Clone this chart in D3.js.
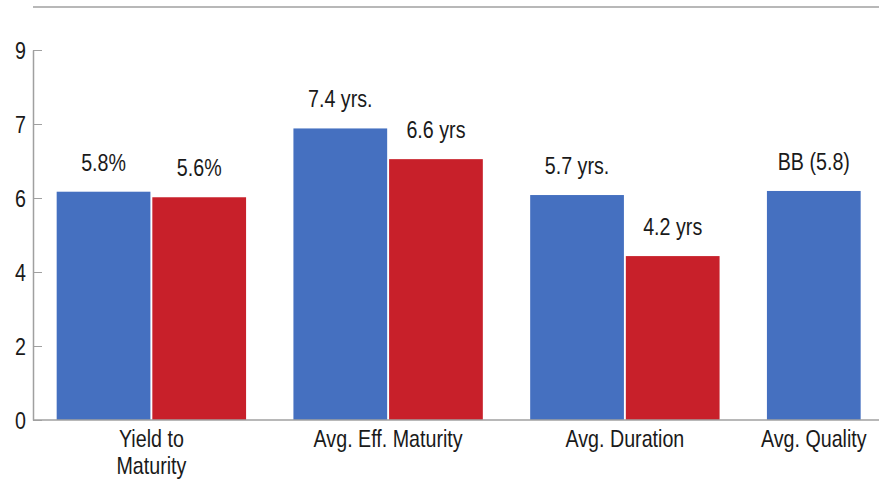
<!DOCTYPE html>
<html>
<head>
<meta charset="utf-8">
<script src="https://cdn.jsdelivr.net/npm/d3@7"></script>
<style>
  body { margin: 0; background: #fff; }
  text { font-family: "Liberation Sans", Arial, sans-serif; fill: #1a1a1a; }
</style>
</head>
<body>
<svg id="chart" width="879" height="482"></svg>
<script>
// categories and series (bar heights read against the axis positions)
var categories = ["Yield to Maturity", "Avg. Eff. Maturity", "Avg. Duration", "Avg. Quality"];
var catLines = [["Yield to", "Maturity"], ["Avg. Eff. Maturity"], ["Avg. Duration"], ["Avg. Quality"]];
var series = ["fund", "index"];
var fundValues = [6.17, 7.88, 6.08, 6.19];
var indexValues = [6.02, 7.05, 4.43, null];
var fundLabels = ["5.8%", "7.4 yrs.", "5.7 yrs.", "BB (5.8)"];
var indexLabels = ["5.6%", "6.6 yrs", "4.2 yrs", ""];
var tickValues = [0, 2, 4, 6, 8, 10];
var tickLabels = ["0", "2", "4", "6", "7", "9"];

var colors = { fund: "#4570c0", index: "#c8202a" };
var sx = 0.82; // condensed look of the original font

var svg = d3.select("#chart");
var mLeft = 33, mBottom = 420, mTop = 50, mRight = 879;

var y = d3.scaleLinear().domain([0, 10]).range([mBottom, mTop]);
var x0 = d3.scaleBand().domain(categories).range([33, 980]).paddingInner(0.2).paddingOuter(0.1);
var x1 = d3.scaleBand().domain(series).range([0, x0.bandwidth()]).paddingInner(0.02);

// frame
svg.append("line").attr("x1", mLeft).attr("x2", mRight).attr("y1", 7).attr("y2", 7)
	.attr("stroke", "#a0a0a0").attr("stroke-width", 1.5);

var rows = categories.map(function(c, i) {
	return [
		{ cat: c, key: "fund", v: fundValues[i], label: fundLabels[i] },
		{ cat: c, key: "index", v: indexValues[i], label: indexLabels[i] }
	].filter(function(d) { return d.v != null; });
});

var g = svg.append("g");
var groups = g.selectAll("g.grp").data(rows).enter().append("g")
	.attr("class", "grp")
	.attr("transform", function(d, i) { return "translate(" + x0(categories[i]) + ",0)"; });

groups.selectAll("rect").data(function(d) { return d; }).enter().append("rect")
	.attr("x", function(d) { return x1(d.key); })
	.attr("y", function(d) { return y(d.v); })
	.attr("width", x1.bandwidth())
	.attr("height", function(d) { return y(0) - y(d.v); })
	.attr("fill", function(d) { return colors[d.key]; });

groups.selectAll("text.val").data(function(d) { return d; }).enter().append("text")
	.attr("class", "val")
	.attr("text-anchor", "middle")
	.style("font-size", "24px")
	.attr("transform", function(d) {
		return "translate(" + (x1(d.key) + x1.bandwidth() / 2) + "," + (y(d.v) - 21) + ") scale(" + sx + ",1)";
	})
	.text(function(d) { return d.label; });

// y axis
var yAxis = d3.axisLeft(y).tickValues(tickValues)
	.tickFormat(function(d, i) { return tickLabels[i]; })
	.tickSizeInner(-9).tickSizeOuter(0).tickPadding(7);
var ya = svg.append("g").attr("transform", "translate(" + mLeft + ",0)").call(yAxis);
ya.select(".domain").attr("stroke", "#a0a0a0").attr("stroke-width", 1.5);
ya.selectAll(".tick line").attr("stroke", "#a0a0a0");
ya.selectAll(".tick text")
	.attr("x", null).attr("dy", "0.35em")
	.style("font-size", "24px").style("font-family", null)
	.attr("fill", "#1a1a1a")
	.attr("transform", "translate(-7,0) scale(" + sx + ",1)");

// x axis line
svg.append("line").attr("x1", mLeft).attr("x2", mRight).attr("y1", mBottom).attr("y2", mBottom)
	.attr("stroke", "#a0a0a0").attr("stroke-width", 1.5);

// category labels, centred under the bars present in each group
categories.forEach(function(c, i) {
	var n = rows[i].length;
	var cx = x0(c) + (n * x1.step() - x1.step() * x1.paddingInner()) / 2;
	catLines[i].forEach(function(line, j) {
		svg.append("text")
			.attr("text-anchor", "middle")
			.style("font-size", "24px")
			.attr("transform", "translate(" + cx + "," + (447 + j * 27) + ") scale(" + sx + ",1)")
			.text(line);
	});
});
</script>
</body>
</html>
